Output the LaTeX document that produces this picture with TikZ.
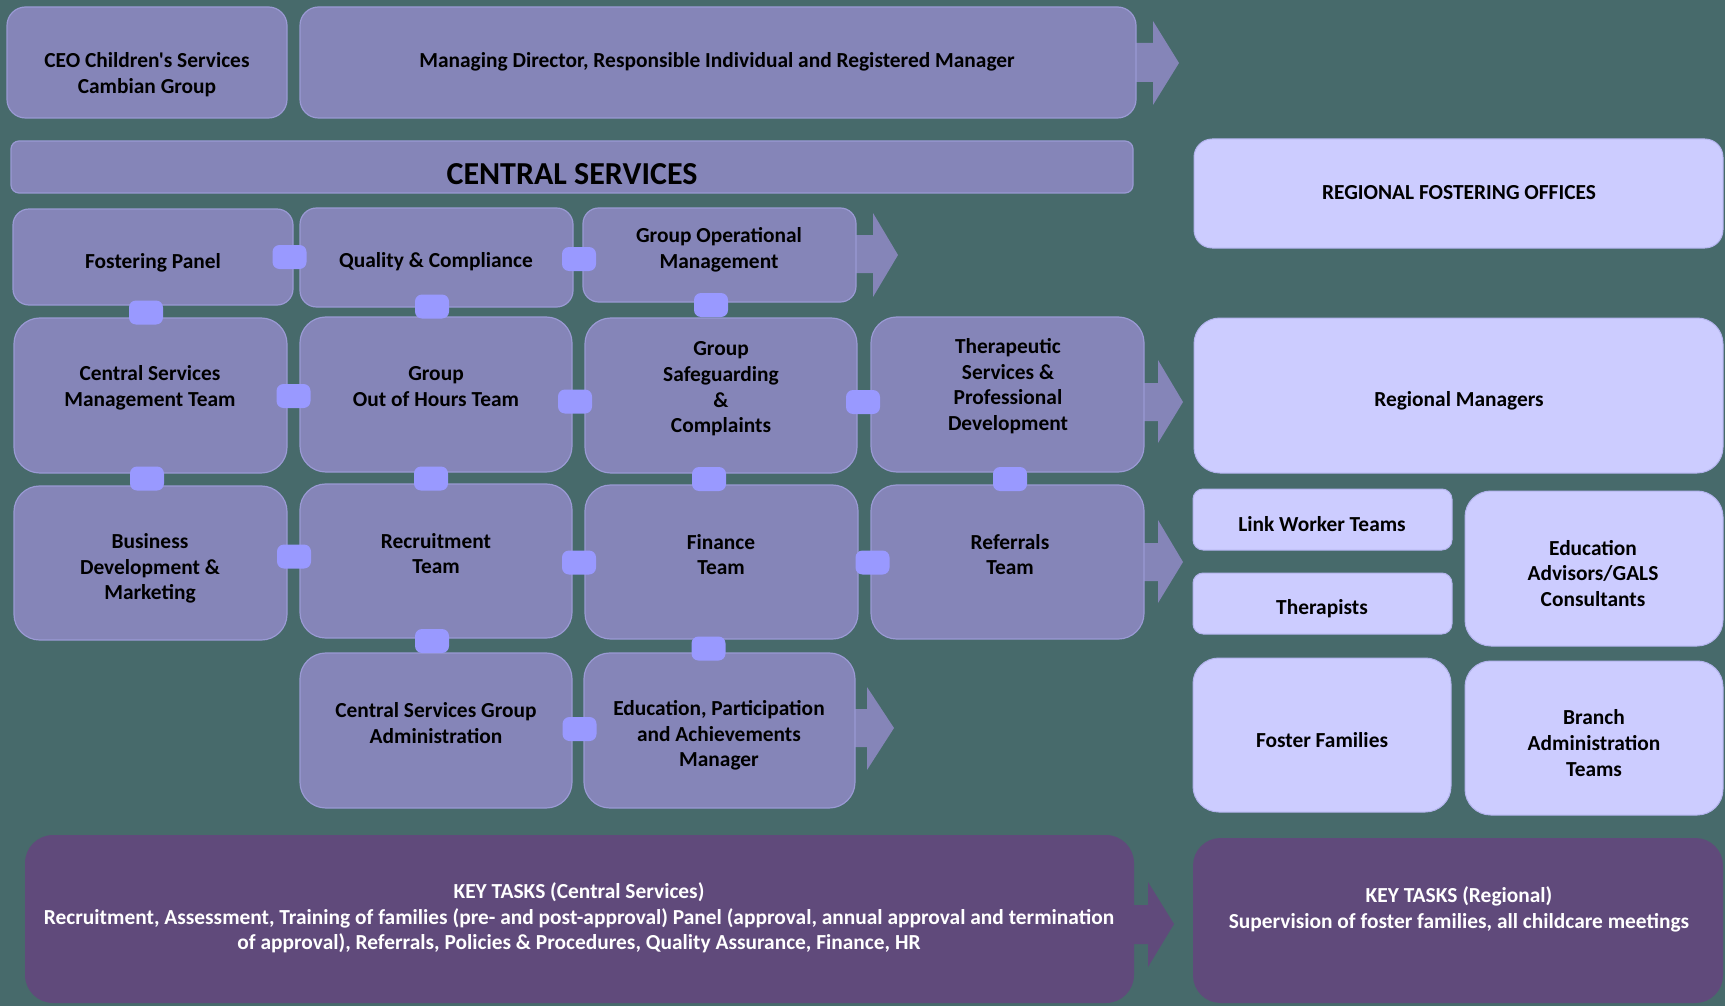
\documentclass[tikz,border=0pt]{standalone}
\usepackage{fontspec}
\setmainfont{Carlito}[Ligatures=TeXOff]
\usetikzlibrary{calc}
\definecolor{bgc}{HTML}{476A6B}
\definecolor{boxc}{HTML}{8585B8}
\definecolor{boxline}{HTML}{9A9AD4}
\definecolor{rboxc}{HTML}{CCCCFF}
\definecolor{rline}{HTML}{B4B4EE}
\definecolor{ktc}{HTML}{604A7B}
\definecolor{connc}{HTML}{9999FF}
\newcommand\mkbox[6]{%
  \pgfmathsetmacro\bw{#5-#3}%
  \pgfmathsetmacro\bh{#6-#4}%
  \pgfmathsetmacro\br{0.167*min(\bw,\bh)}%
  \node[#1, minimum width=\bw pt, minimum height=\bh pt, rounded corners=\br pt] (#2) at ({(#3+#5)/2},{(#4+#6)/2}) {};}
\begin{document}
\begin{tikzpicture}[x=1pt,y=-1pt,
  pbox/.style={rectangle, fill=boxc, draw=boxline, line width=1.2pt, inner sep=0pt, outer sep=0pt},
  rbox/.style={rectangle, fill=rboxc, draw=rline, line width=1pt, inner sep=0pt, outer sep=0pt},
  kbox/.style={rectangle, fill=ktc, draw=none, inner sep=0pt, outer sep=0pt},
  conn/.style={rectangle, fill=connc, rounded corners=7pt, minimum width=34pt, minimum height=24pt, inner sep=0pt},
  txt/.style={font=\fontsize{21.4}{25.6}\selectfont\bfseries, align=center, inner sep=0pt, text=black, yshift=-3pt},
  ktxt/.style={txt, text=white},
  bigtxt/.style={font=\fontsize{32}{38}\selectfont\bfseries, inner sep=0pt, text=black, yshift=-2pt}]
\useasboundingbox (0,0) rectangle (1725,1006);
\fill[bgc] (0,0) rectangle (1725,1006);
% block arrows (behind boxes)
\fill[boxc] (1120,43) -- (1153,43) -- (1153,21) -- (1179,63) -- (1153,105) -- (1153,82) -- (1120,82) -- cycle;
\fill[boxc] (840,235) -- (873,235) -- (873,213) -- (898,255) -- (873,297) -- (873,273) -- (840,273) -- cycle;
\fill[boxc] (1130,383) -- (1158,383) -- (1158,360) -- (1183,402) -- (1158,443) -- (1158,421) -- (1130,421) -- cycle;
\fill[boxc] (1130,543) -- (1158,543) -- (1158,520) -- (1183,562) -- (1158,603) -- (1158,581) -- (1130,581) -- cycle;
\fill[boxc] (840,709) -- (867,709) -- (867,687) -- (894,728) -- (867,770) -- (867,747) -- (840,747) -- cycle;
\fill[ktc] (1120,905) -- (1148,905) -- (1148,882) -- (1174,924) -- (1148,967) -- (1148,944) -- (1120,944) -- cycle;
% top
\mkbox{pbox}{ceo}{7}{7}{287}{118}
\mkbox{pbox}{md}{300}{7}{1136}{118}
\node[pbox, minimum width=1122pt, minimum height=52pt, rounded corners=8pt] (cs) at (572,167) {};
\mkbox{rbox}{rfo}{1194}{139}{1723}{248}
% row 1
\mkbox{pbox}{fp}{13}{209}{293}{305}
\mkbox{pbox}{qc}{300}{208}{573}{307}
\mkbox{pbox}{gom}{583}{208}{856}{302}
% row 2
\mkbox{pbox}{csmt}{14}{318}{287}{473}
\mkbox{pbox}{gooh}{300}{317}{572}{472}
\mkbox{pbox}{gs}{585}{318}{857}{473}
\mkbox{pbox}{ther}{871}{317}{1144}{472}
\mkbox{rbox}{rm}{1194}{318}{1723}{473}
% row 3
\mkbox{pbox}{bdm}{14}{486}{287}{640}
\mkbox{pbox}{rec}{300}{484}{572}{638}
\mkbox{pbox}{fin}{585}{485}{858}{639}
\mkbox{pbox}{ref}{871}{485}{1144}{639}
\mkbox{rbox}{lwt}{1193}{489}{1452}{550}
\mkbox{rbox}{thr}{1193}{573}{1452}{634}
\mkbox{rbox}{eda}{1465}{491}{1723}{646}
% row 4
\mkbox{pbox}{csga}{300}{653}{572}{808}
\mkbox{pbox}{epa}{584}{653}{855}{808}
\mkbox{rbox}{ff}{1193}{658}{1451}{812}
\mkbox{rbox}{bat}{1465}{661}{1723}{815}
% key tasks
\mkbox{kbox}{ktc}{25}{835}{1134}{1003}
\mkbox{kbox}{ktr}{1193}{838}{1723}{1003}
% connectors
\node[conn] (c1) at (289.5,257) {};
\node[conn] (c2) at (579,259) {};
\node[conn] (c3) at (146,312.5) {};
\node[conn] (c4) at (432,306.5) {};
\node[conn] (c5) at (711,305) {};
\node[conn] (c6) at (293.5,396) {};
\node[conn] (c7) at (575,401.5) {};
\node[conn] (c8) at (863,402) {};
\node[conn] (c9) at (147,478.5) {};
\node[conn] (c10) at (431,478.5) {};
\node[conn] (c11) at (709,479) {};
\node[conn] (c12) at (1010,479) {};
\node[conn] (c13) at (294,556.5) {};
\node[conn] (c14) at (579,562.5) {};
\node[conn] (c15) at (872.5,562.5) {};
\node[conn] (c16) at (432,641) {};
\node[conn] (c17) at (708.5,648.5) {};
\node[conn] (c18) at (579.5,729) {};
% texts
\node[txt] (ceo-t) at (147,71.5) {CEO Children's Services\\Cambian Group};
\node[txt] (md-t) at (717,59) {Managing Director, Responsible Individual and Registered Manager};
\node[bigtxt] (cs-t) at (572,172) {CENTRAL SERVICES};
\node[txt] (rfo-t) at (1459,190) {REGIONAL FOSTERING OFFICES};
\node[txt] (fp-t) at (153,260) {Fostering Panel};
\node[txt] (qc-t) at (436,259) {Quality \& Compliance};
\node[txt] (gom-t) at (719,246.5) {Group Operational\\Management};
\node[txt] (csmt-t) at (150,385) {Central Services\\Management Team};
\node[txt] (gooh-t) at (436,383.5) {Group\\Out of Hours Team};
\node[txt] (gs-t) at (721,386) {Group\\Safeguarding\\\&\\Complaints};
\node[txt] (ther-t) at (1008,383) {Therapeutic\\Services \&\\Professional\\Development};
\node[txt] (rm-t) at (1459,398) {Regional Managers};
\node[txt] (bdm-t) at (150,565.5) {Business\\Development \&\\Marketing};
\node[txt] (rec-t) at (436,550.5) {Recruitment\\Team};
\node[txt] (fin-t) at (721,551.5) {Finance\\Team};
\node[txt] (ref-t) at (1010,551.5) {Referrals\\Team};
\node[txt] (lwt-t) at (1322,521) {Link Worker Teams};
\node[txt] (thr-t) at (1322,606) {Therapists};
\node[txt] (eda-t) at (1593,570.5) {Education\\Advisors/GALS\\Consultants};
\node[txt] (csga-t) at (436,720) {Central Services Group\\Administration};
\node[txt] (epa-t) at (719,732.5) {Education, Participation\\and Achievements\\Manager};
\node[txt] (ff-t) at (1322,737) {Foster Families};
\node[txt] (bat-t) at (1594,740) {Branch\\Administration\\Teams};
\node[ktxt] (ktc-t) at (579,915) {KEY TASKS (Central Services)\\Recruitment, Assessment, Training of families (pre- and post-approval) Panel (approval, annual approval and termination\\of approval), Referrals, Policies \& Procedures, Quality Assurance, Finance, HR};
\node[ktxt] (ktr-t) at (1459,906.5) {KEY TASKS (Regional)\\Supervision of foster families, all childcare meetings};
\end{tikzpicture}
\end{document}
